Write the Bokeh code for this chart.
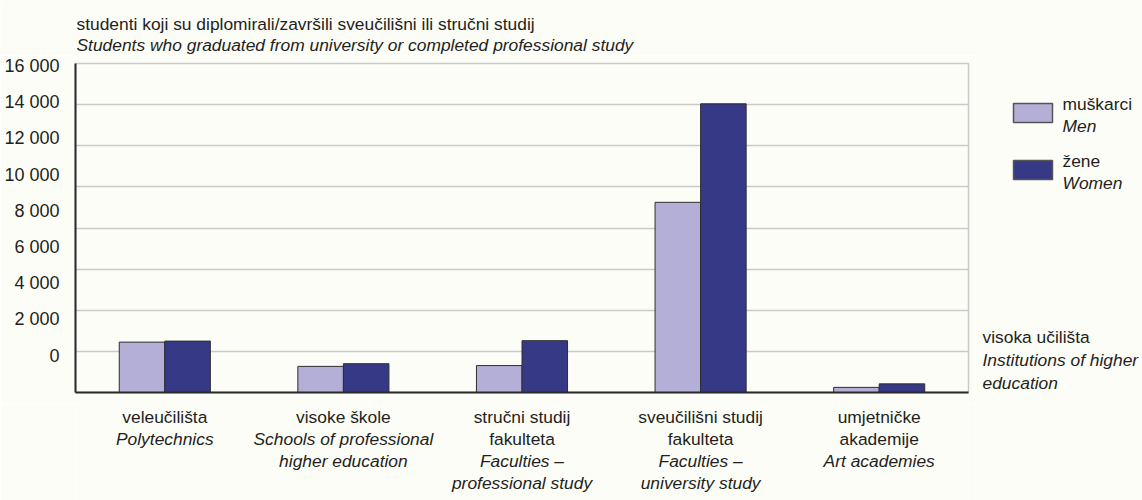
from bokeh.plotting import figure
from bokeh.models import ColumnDataSource, Range1d, LinearAxis, FixedTicker
from bokeh.layouts import column, row
from bokeh.transform import dodge
from bokeh.core.properties import value
from bokeh.embed import file_html
from bokeh.resources import INLINE

# ---------------- data ----------------
CATEGORIES_HR = [["veleučilišta"], ["visoke škole"], ["stručni studij", "fakulteta"],
                 ["sveučilišni studij", "fakulteta"], ["umjetničke", "akademije"]]
CATEGORIES_EN = [["Polytechnics"], ["Schools of professional", "higher education"],
                 ["Faculties –", "professional study"], ["Faculties –", "university study"],
                 ["Art academies"]]
MEN = [2450, 1270, 1310, 9250, 250]
WOMEN = [2500, 1400, 2520, 14040, 420]
Y_TICKS = [0, 2000, 4000, 6000, 8000, 10000, 12000, 14000, 16000]
Y_TICK_LABELS = ["0", "2 000", "4 000", "6 000", "8 000", "10 000", "12 000", "14 000", "16 000"]
TITLE_HR = "studenti koji su diplomirali/završili sveučilišni ili stručni studij"
TITLE_EN = "Students who graduated from university or completed professional study"
LEGEND_HR = ["muškarci", "žene"]
LEGEND_EN = ["Men", "Women"]
XNOTE_HR = "visoka učilišta"
XNOTE_EN = ["Institutions of higher", "education"]

# ---------------- style / layout ----------------
FONT = "Liberation Sans"
FS = "17.4px"
TXT = "#231f20"
LIGHT = "#b4afd7"
DARK = "#363a86"
EDGE = "#2e2e2e"
BG = "#fdfdf8"
GRIDC = "#c9c9c9"
AXC = "#2a2a2a"

W, H = 1142, 500
FL, FR, FT, FB = 75, 968, 63, 392     # plot frame edges (page pixels)
TOP_H = 55                            # height of title strip
LEFT_W = FR + 7                       # width of chart column
MAIN_BOTTOM = 12
NCAT = len(MEN)
YMAX = 16000
BAR_W = 0.255


def blank(fig):
    fig.background_fill_color = BG
    fig.border_fill_color = BG
    fig.outline_line_color = None
    fig.grid.visible = False
    return fig


# ---------- title strip ----------
top = blank(figure(width=W, height=TOP_H, output_backend="svg", toolbar_location=None,
                   x_range=Range1d(0, W), y_range=Range1d(TOP_H, 0),
                   x_axis_location=None, y_axis_location=None,
                   min_border=0))
top.text(x=[76], y=[23.5], text=[TITLE_HR], text_font=value(FONT), text_font_size=value(FS),
         text_color=TXT, text_baseline="middle", text_align="left")
top.text(x=[76], y=[44], text=[TITLE_EN], text_font=value(FONT), text_font_size=value(FS),
         text_color=TXT, text_baseline="middle", text_align="left", text_font_style="italic")

# ---------- main chart ----------
main_h = (FB - TOP_H) + MAIN_BOTTOM
p = figure(width=LEFT_W, height=main_h, output_backend="svg", toolbar_location=None,
           x_range=Range1d(0, NCAT), y_range=Range1d(0, YMAX),
           x_axis_location=None, y_axis_location=None,
           min_border_left=FL, min_border_right=LEFT_W - FR,
           min_border_top=FT - TOP_H, min_border_bottom=MAIN_BOTTOM)
p.background_fill_color = BG
p.border_fill_color = BG
p.outline_line_color = GRIDC
p.outline_line_width = 1.5
p.xgrid.visible = False
p.ygrid.ticker = FixedTicker(ticks=Y_TICKS)
p.ygrid.grid_line_color = GRIDC
p.ygrid.grid_line_width = 1.5

# tick labels sit on their own, slightly compressed scale as in the original
lab0 = 355.0
lab_step = 36.2
p.extra_y_ranges = {"lab": Range1d(-(FB - lab0) / lab_step * 2000,
                                   (lab0 - FT) / lab_step * 2000)}
yax = LinearAxis(y_range_name="lab", ticker=FixedTicker(ticks=Y_TICKS),
                 major_label_overrides={t: s for t, s in zip(Y_TICKS, Y_TICK_LABELS)})
yax.axis_line_color = AXC
yax.axis_line_width = 2
yax.major_tick_line_color = None
yax.minor_tick_line_color = None
yax.major_label_standoff = 10
yax.major_label_text_font = FONT
yax.major_label_text_font_size = "18px"
yax.major_label_text_color = TXT
p.add_layout(yax, "left")

xax = LinearAxis(ticker=FixedTicker(ticks=[]))
xax.axis_line_color = AXC
xax.axis_line_width = 2
xax.major_tick_line_color = None
xax.minor_tick_line_color = None
xax.major_tick_out = 0
xax.major_label_standoff = 0
xax.major_label_text_font_size = "0px"
p.add_layout(xax, "below")

src = ColumnDataSource(dict(x=[i + 0.5 for i in range(NCAT)], men=MEN, women=WOMEN))
p.vbar(x=dodge("x", -BAR_W / 2), top="men", width=BAR_W, source=src,
       fill_color=LIGHT, line_color=EDGE, line_width=1)
p.vbar(x=dodge("x", BAR_W / 2), top="women", width=BAR_W, source=src,
       fill_color=DARK, line_color=EDGE, line_width=1)

# ---------- category labels (share the chart's x scale) ----------
bot_top = TOP_H + main_h
bot = blank(figure(width=LEFT_W, height=H - bot_top, output_backend="svg", toolbar_location=None,
                   x_range=p.x_range, y_range=Range1d(H, bot_top),
                   x_axis_location=None, y_axis_location=None,
                   min_border_left=FL, min_border_right=LEFT_W - FR,
                   min_border_top=0, min_border_bottom=0))
reg = dict(x=[], y=[], text=[])
ita = dict(x=[], y=[], text=[])
for i in range(NCAT):
    k = 0
    for s in CATEGORIES_HR[i]:
        reg["x"].append(i + 0.5); reg["y"].append(416 + 22.3 * k); reg["text"].append(s); k += 1
    for s in CATEGORIES_EN[i]:
        ita["x"].append(i + 0.5); ita["y"].append(416 + 22.3 * k); ita["text"].append(s); k += 1
bot.text(x="x", y="y", text="text", source=ColumnDataSource(reg), text_font=value(FONT),
         text_font_size=value(FS), text_color=TXT, text_align="center", text_baseline="middle")
bot.text(x="x", y="y", text="text", source=ColumnDataSource(ita), text_font=value(FONT),
         text_font_size=value(FS), text_color=TXT, text_align="center", text_baseline="middle",
         text_font_style="italic")

# ---------- legend + note (right strip) ----------
right = blank(figure(width=W - LEFT_W, height=H - TOP_H, output_backend="svg",
                     toolbar_location=None, x_range=Range1d(LEFT_W, W), y_range=Range1d(H, TOP_H),
                     x_axis_location=None, y_axis_location=None, min_border=0))
sw_top = [103, 160]
right.quad(left=[1013, 1013], right=[1052, 1052], top=sw_top, bottom=[t + 19 for t in sw_top],
           fill_color=[LIGHT, DARK], line_color="#555555", line_width=1.5)
right.text(x=[1062, 1062], y=[t + 0.5 for t in sw_top], text=LEGEND_HR, text_font=value(FONT),
           text_font_size=value(FS), text_color=TXT, text_baseline="middle")
right.text(x=[1062, 1062], y=[t + 22.5 for t in sw_top], text=LEGEND_EN, text_font=value(FONT),
           text_font_size=value(FS), text_color=TXT, text_baseline="middle", text_font_style="italic")
right.text(x=[982], y=[336], text=[XNOTE_HR], text_font=value(FONT),
           text_font_size=value(FS), text_color=TXT, text_baseline="middle")
right.text(x=[982, 982], y=[359, 382], text=XNOTE_EN, text_font=value(FONT),
           text_font_size=value(FS), text_color=TXT, text_baseline="middle", text_font_style="italic")

layout = column(top, row(column(p, bot), right))
open("out.html", "w").write(file_html(layout, INLINE))
